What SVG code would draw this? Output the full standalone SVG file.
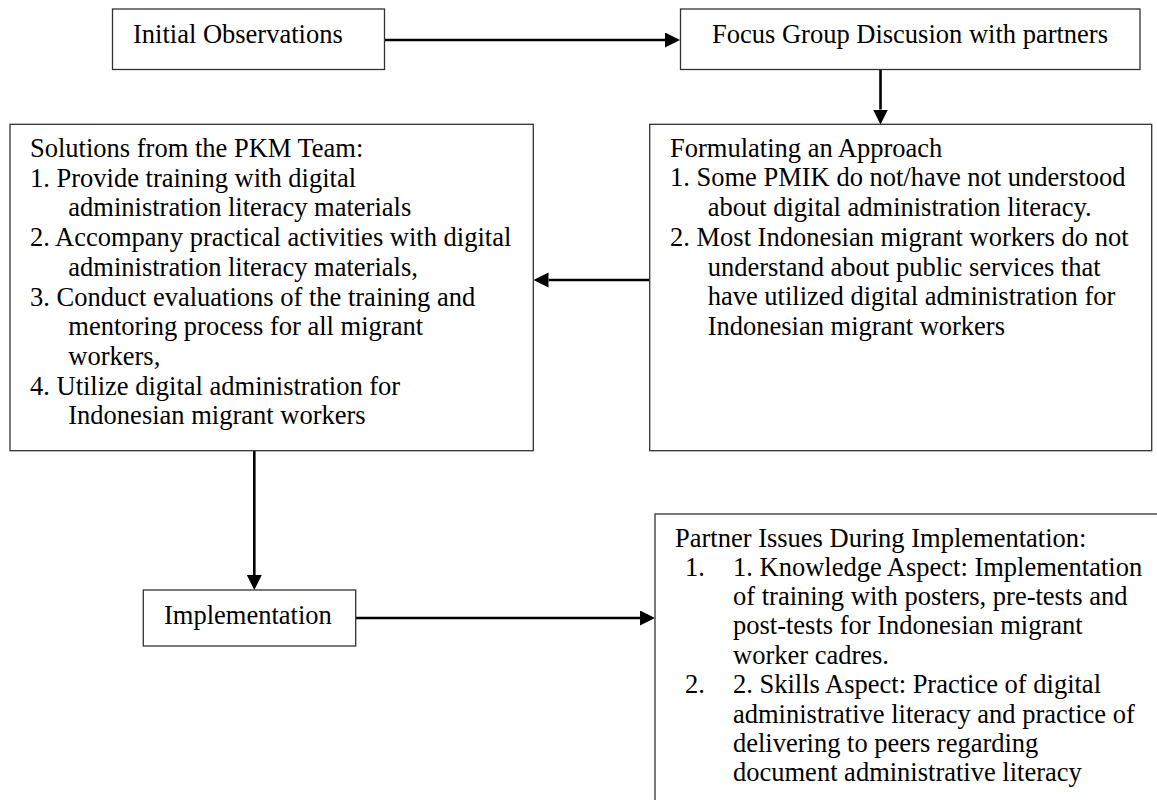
<svg xmlns="http://www.w3.org/2000/svg" width="1157" height="800" viewBox="0 0 1157 800">
<style>
  .box { fill: #ffffff; stroke: #333333; stroke-width: 1.3; }
  .t { font-family: "Liberation Serif", "Times New Roman", serif; font-size: 26.5px; fill: #000000; }
  .c { text-anchor: middle; }
  .conn { stroke: #000000; stroke-width: 2.6; fill: none; }
</style>
<defs>
  <marker id="arrow" markerUnits="userSpaceOnUse" markerWidth="16" markerHeight="16" refX="0" refY="7.5" orient="auto">
    <path d="M0,0 L15,7.5 L0,15 Z" fill="#000000"/>
  </marker>
</defs>
<rect width="1157" height="800" fill="#ffffff"/>

<g id="connectors">
  <path class="conn" d="M384.5,40 H665" marker-end="url(#arrow)"/>
  <path class="conn" d="M880.5,70 V109.5" marker-end="url(#arrow)"/>
  <path class="conn" d="M649.7,280 H548.5" marker-end="url(#arrow)"/>
  <path class="conn" d="M254.3,451 V575" marker-end="url(#arrow)"/>
  <path class="conn" d="M355.7,618 H640" marker-end="url(#arrow)"/>
</g>

<g id="initial-observations">
  <rect class="box" x="112.5" y="9" width="272" height="60.5"/>
  <text class="t" x="133" y="43">Initial Observations</text>
</g>

<g id="focus-group">
  <rect class="box" x="680.5" y="9" width="459.5" height="60.5"/>
  <text class="t c" x="910" y="43">Focus Group Discusion with partners</text>
</g>

<g id="formulating">
  <rect class="box" x="649.7" y="124.3" width="502" height="326.4"/>
  <text class="t" x="670" y="156.7">Formulating an Approach</text>
  <text class="t" x="670" y="186.4">1. Some PMIK do not/have not understood</text>
  <text class="t" x="707.7" y="216.1">about digital administration literacy.</text>
  <text class="t" x="670" y="245.8">2. Most Indonesian migrant workers do not</text>
  <text class="t" x="707.7" y="275.5">understand about public services that</text>
  <text class="t" x="707.7" y="305.2">have utilized digital administration for</text>
  <text class="t" x="707.7" y="334.9">Indonesian migrant workers</text>
</g>

<g id="solutions">
  <rect class="box" x="10" y="124.3" width="523.3" height="326.4"/>
  <text class="t" x="30" y="157">Solutions from the PKM Team:</text>
  <text class="t" x="30" y="186.7">1. Provide training with digital</text>
  <text class="t" x="68.3" y="216.4">administration literacy materials</text>
  <text class="t" x="30" y="246.1">2. Accompany practical activities with digital</text>
  <text class="t" x="68.3" y="275.8">administration literacy materials,</text>
  <text class="t" x="30" y="305.5">3. Conduct evaluations of the training and</text>
  <text class="t" x="68.3" y="335.2">mentoring process for all migrant</text>
  <text class="t" x="68.3" y="364.9">workers,</text>
  <text class="t" x="30" y="394.6">4. Utilize digital administration for</text>
  <text class="t" x="68.3" y="424.3">Indonesian migrant workers</text>
</g>

<g id="implementation">
  <rect class="box" x="143.3" y="590" width="212.4" height="56"/>
  <text class="t" x="164" y="624">Implementation</text>
</g>

<g id="partner-issues">
  <rect class="box" x="655" y="514" width="510" height="300"/>
  <text class="t" x="675" y="546.7">Partner Issues During Implementation:</text>
  <text class="t" x="685" y="575.5">1.</text>
  <text class="t" x="733" y="575.5">1. Knowledge Aspect: Implementation</text>
  <text class="t" x="733" y="604.9">of training with posters, pre-tests and</text>
  <text class="t" x="733" y="634.3">post-tests for Indonesian migrant</text>
  <text class="t" x="733" y="663.7">worker cadres.</text>
  <text class="t" x="685" y="693.1">2.</text>
  <text class="t" x="733" y="693.1">2. Skills Aspect: Practice of digital</text>
  <text class="t" x="733" y="722.5">administrative literacy and practice of</text>
  <text class="t" x="733" y="751.9">delivering to peers regarding</text>
  <text class="t" x="733" y="781.3">document administrative literacy</text>
</g>
</svg>
